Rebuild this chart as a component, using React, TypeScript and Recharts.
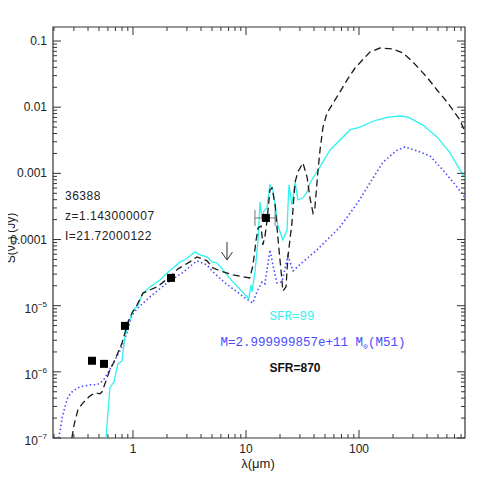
import React from 'react'
import {
    ComposedChart,
    Line,
    Scatter,
    ErrorBar,
    XAxis,
    YAxis,
    ReferenceArea
} from 'recharts'

// model SEDs, [wavelength (um), flux (Jy)]
const SED_SFR99: [number, number][] = [
    [0.577, 1e-7], [0.625, 5.75e-7], [0.679, 7.08e-7], [0.736, 1.32e-6], [0.8, 1.47e-6],
    [0.849, 3.39e-6], [0.922, 5.69e-6], [1.0, 8.33e-6], [1.107, 1.02e-5], [1.225, 1.55e-5],
    [1.413, 1.92e-5], [1.734, 2.45e-5], [2.0, 3.13e-5], [2.26, 3.72e-5], [2.61, 4.59e-5],
    [2.88, 4.9e-5], [3.19, 5.65e-5], [3.54, 6.5e-5], [3.92, 5.85e-5], [4.52, 5.46e-5],
    [5.0, 4.59e-5], [5.53, 4.44e-5], [7.67, 2.29e-5], [10.6, 1.27e-5], [11.1, 2.06e-5],
    [11.3, 1.62e-5], [12.0, 3.24e-5], [12.8, 9.86e-5], [13.3, 3.72e-4], [13.9, 1.98e-4],
    [14.4, 2.7e-4], [15.3, 3.0e-4], [16.3, 6.68e-4], [17.3, 5.62e-4], [18.1, 3.33e-4],
    [19.2, 1.6e-4], [21.2, 9.86e-5], [23.1, 1.4e-4], [23.5, 3.0e-4], [24.0, 6.68e-4],
    [25.5, 3.33e-4], [27.2, 7.41e-4], [28.8, 3.98e-4], [31.9, 4.27e-4], [34.7, 5.25e-4],
    [36.8, 7.16e-4], [43.4, 1.12e-3], [55.3, 2.24e-3], [83.2, 4.53e-3], [102, 5.01e-3],
    [130, 6.03e-3], [147, 6.46e-3], [181, 7.08e-3], [231, 7.36e-3], [272, 7.08e-3],
    [368, 5.37e-3], [490, 3.55e-3], [638, 2.04e-3], [832, 9.46e-4], [867, 8.5e-4]
]

const SED_SFR870: [number, number][] = [
    [0.288, 1e-7], [0.301, 1.58e-7], [0.326, 2.67e-7], [0.361, 3.4e-7], [0.417, 4.34e-7],
    [0.461, 4.82e-7], [0.511, 4.66e-7], [0.532, 4.99e-7], [0.565, 6.6e-7], [0.625, 1.07e-6],
    [0.693, 1.51e-6], [0.8, 2.74e-6], [0.849, 3.89e-6], [0.903, 5.69e-6], [0.98, 7.76e-6],
    [1.084, 1.02e-5], [1.225, 1.55e-5], [1.63, 1.92e-5], [2.12, 2.72e-5], [2.5, 3.6e-5],
    [3.19, 4.59e-5], [3.68, 5.46e-5], [4.52, 4.75e-5], [5.1, 3.72e-5], [5.89, 3.36e-5],
    [7.67, 2.92e-5], [10.8, 2.63e-5], [11.5, 3.98e-5], [12.3, 9.86e-5], [12.8, 1.5e-4],
    [13.6, 1.6e-4], [14.1, 8.3e-5], [14.7, 1.1e-4], [15.3, 1.85e-4], [16.3, 5.62e-4],
    [17.0, 6.03e-4], [18.1, 3.33e-4], [18.8, 1.55e-4], [19.6, 6.97e-5], [20.8, 2.45e-5],
    [21.2, 1.67e-5], [22.6, 1.92e-5], [23.5, 5.46e-5], [25.5, 1.78e-4], [27.2, 7.41e-4],
    [28.8, 1.05e-3], [31.9, 1.44e-3], [34.7, 8.83e-4], [36.8, 4.27e-4], [39.2, 2.51e-4],
    [40.7, 3.0e-4], [43.4, 1.12e-3], [45.2, 2.24e-3], [48.0, 5.0e-3], [52.1, 8.17e-3],
    [63.8, 0.0143], [78.3, 0.0257], [92.2, 0.0391], [125, 0.0682], [153, 0.0784],
    [200, 0.0758], [245, 0.0659], [300, 0.0482], [398, 0.0286], [490, 0.0182],
    [601, 0.012], [783, 6.41e-3], [867, 4.22e-3]
]

const SED_M51: [number, number][] = [
    [0.221, 1e-7], [0.236, 2.02e-7], [0.25, 2.96e-7], [0.266, 4.19e-7], [0.294, 5.16e-7],
    [0.34, 5.93e-7], [0.417, 6.37e-7], [0.48, 6.37e-7], [0.543, 7.31e-7], [0.601, 9.66e-7],
    [0.693, 1.51e-6], [0.8, 2.39e-6], [0.885, 3.89e-6], [0.98, 7.24e-6], [1.107, 9.27e-6],
    [1.413, 1.36e-5], [2.0, 2.21e-5], [2.72, 3.13e-5], [3.68, 4.75e-5], [4.52, 4.13e-5],
    [5.1, 3.24e-5], [6.52, 2.21e-5], [8.32, 1.62e-5], [9.8, 1.31e-5], [11.5, 1.1e-5],
    [12.5, 1.62e-5], [13.9, 2.29e-5], [14.7, 2.14e-5], [16.3, 6.97e-5], [17.3, 4.13e-5],
    [18.8, 2.21e-5], [20.8, 2.29e-5], [23.5, 5.65e-5], [26.1, 3.36e-5], [31.9, 4.59e-5],
    [42.5, 6.97e-5], [67.9, 1.55e-4], [95.9, 3.47e-4], [125, 7.16e-4], [163, 1.48e-3],
    [217, 2.24e-3], [255, 2.51e-3], [326, 2.19e-3], [425, 1.83e-3], [554, 1.12e-3],
    [736, 6.24e-4], [867, 4.27e-4]
]

// observed photometry (optical / near-IR)
const PHOT_LAM = [0.434, 0.554, 0.849, 2.17]
const PHOT_S = [1.47e-6, 1.32e-6, 4.95e-6, 2.63e-5]

// 15um point with its band width
const MIR_LAM = [15.0]
const MIR_S = [2.12e-4]
const MIR_LAM_LO = [12.0]
const MIR_LAM_HI = [18.1]

// upper limit
const LIMIT_LAM = [6.79]
const LIMIT_S = [4.9e-5]

const X_MIN = 0.196
const X_MAX = 867
const Y_MIN = 1e-7
const Y_MAX = 0.163

const X_DECADES = [0.1, 1, 10, 100]
const Y_DECADES = [1e-7, 1e-6, 1e-5, 1e-4, 1e-3, 1e-2, 1e-1]
const X_LABELS: Record<string, string> = { '0': '1', '1': '10', '2': '100' }
const Y_LABELS: Record<string, string> = { '-1': '0.1', '-2': '0.01', '-3': '0.001', '-4': '0.0001' }

const W = 491
const H = 491
const TOP = 27
const RIGHT = 465
const AXIS_COLOR = '#333'
const FONT = '"Liberation Sans", Arial, sans-serif'
const MONO = '"Liberation Mono", "Courier New", monospace'

const minorTicks = (decades: number[], lo: number, hi: number) =>
    decades
        .flatMap(d => [1, 2, 3, 4, 5, 6, 7, 8, 9].map(m => Number((m * d).toPrecision(3))))
        .filter(v => v >= lo && v <= hi)

const X_TICKS = minorTicks(X_DECADES, X_MIN, X_MAX)
const Y_TICKS = minorTicks(Y_DECADES, Y_MIN, Y_MAX)

const decadeOf = (v: number) => {
    const l = Math.log10(v)
    const e = Math.round(l)
    return Math.abs(l - e) < 1e-6 ? e : null
}

const toPoints = (pairs: [number, number][]) => pairs.map(([lam, s]) => ({ lam, s }))

const photData = PHOT_LAM.map((lam, i) => ({ lam, s: PHOT_S[i] }))
const mirData = MIR_LAM.map((lam, i) => ({
    lam,
    s: MIR_S[i],
    xerr: [lam - MIR_LAM_LO[i], MIR_LAM_HI[i] - lam]
}))
const limitData = LIMIT_LAM.map((lam, i) => ({ lam, s: LIMIT_S[i] }))

function XTick(props: any) {
    const { x, y, payload } = props
    const e = decadeOf(payload.value)
    const len = e !== null ? 8 : 4
    const label = e !== null ? X_LABELS[String(e)] : undefined
    return (
        <g>
            <line x1={x} y1={y} x2={x} y2={y - len} stroke={AXIS_COLOR} />
            <line x1={x} y1={TOP} x2={x} y2={TOP + len} stroke={AXIS_COLOR} />
            {label && (
                <text x={x} y={y + 15} textAnchor="middle" fontSize={12} fontFamily={FONT} fill="#222">
                    {label}
                </text>
            )}
        </g>
    )
}

function YTick(props: any) {
    const { x, y, payload } = props
    const e = decadeOf(payload.value)
    const len = e !== null ? 8 : 4
    let label: React.ReactNode = null
    if (e !== null) {
        label = Y_LABELS[String(e)] ? (
            <text x={x - 6} y={y + 4} textAnchor="end" fontSize={12} fontFamily={FONT} fill="#222">
                {Y_LABELS[String(e)]}
            </text>
        ) : (
            <text x={x - 6} y={y + 7} textAnchor="end" fontSize={12} fontFamily={FONT} fill="#222">
                <tspan>10</tspan>
                <tspan dy={-6} fontSize={8}>{`\u2212${-e}`}</tspan>
            </text>
        )
    }
    return (
        <g>
            <line x1={x} y1={y} x2={x + len} y2={y} stroke={AXIS_COLOR} />
            <line x1={RIGHT} y1={y} x2={RIGHT - len} y2={y} stroke={AXIS_COLOR} />
            {label}
        </g>
    )
}

function LimitArrow(props: any) {
    const { cx, cy } = props
    return (
        <g stroke="#333" strokeWidth={1} fill="none">
            <line x1={cx} y1={cy - 18} x2={cx} y2={cy} />
            <polyline points={`${cx - 5.5},${cy - 8} ${cx},${cy} ${cx + 5.5},${cy - 8}`} />
        </g>
    )
}

export default function App() {
    return (
        <div style={{ position: 'relative', width: W, height: H, margin: -8, background: '#fff' }}>
            <ComposedChart width={W} height={H} margin={{ top: TOP, right: W - RIGHT, left: 0, bottom: 0 }}>
                <XAxis
                    type="number"
                    dataKey="lam"
                    scale="log"
                    domain={[X_MIN, X_MAX]}
                    allowDataOverflow
                    ticks={X_TICKS}
                    interval={0}
                    height={53}
                    tickSize={0}
                    tickMargin={0}
                    tickLine={false}
                    axisLine={false}
                    tick={<XTick />}
                />
                <YAxis
                    type="number"
                    dataKey="s"
                    scale="log"
                    domain={[Y_MIN, Y_MAX]}
                    allowDataOverflow
                    ticks={Y_TICKS}
                    interval={0}
                    width={53}
                    tickSize={0}
                    tickMargin={0}
                    tickLine={false}
                    axisLine={false}
                    tick={<YTick />}
                />
                <ReferenceArea
                    x1={X_MIN}
                    x2={X_MAX}
                    y1={Y_MIN}
                    y2={Y_MAX}
                    fill="none"
                    stroke={AXIS_COLOR}
                    strokeWidth={1.2}
                    ifOverflow="visible"
                />
                <Line
                    data={toPoints(SED_M51)}
                    dataKey="s"
                    type="linear"
                    stroke="#4a4aff"
                    strokeWidth={1.6}
                    strokeDasharray="1.5 2.5"
                    dot={false}
                    isAnimationActive={false}
                />
                <Line
                    data={toPoints(SED_SFR99)}
                    dataKey="s"
                    type="linear"
                    stroke="#2ef2f2"
                    strokeWidth={1.3}
                    dot={false}
                    isAnimationActive={false}
                />
                <Line
                    data={toPoints(SED_SFR870)}
                    dataKey="s"
                    type="linear"
                    stroke="#1a1a1a"
                    strokeWidth={1.3}
                    strokeDasharray="7 4"
                    dot={false}
                    isAnimationActive={false}
                />
                <Scatter data={limitData} dataKey="s" shape={<LimitArrow />} isAnimationActive={false} />
                <Scatter data={mirData} dataKey="s" shape="square" fill="#000" isAnimationActive={false}>
                    <ErrorBar dataKey="xerr" direction="x" width={8} stroke="#777" strokeWidth={1} />
                </Scatter>
                <Scatter data={photData} dataKey="s" shape="square" fill="#000" isAnimationActive={false} />
            </ComposedChart>

            <svg width={W} height={H} style={{ position: 'absolute', left: 0, top: 0, pointerEvents: 'none' }}>
                <g fontFamily={FONT} fontSize={12} fill="#222" letterSpacing={0.5}>
                    <text x={65} y={200}>36388</text>
                    <text x={65} y={220}>z=1.143000007</text>
                    <text x={65} y={240}>I=21.72000122</text>
                </g>
                <text x={292} y={320} textAnchor="middle" fontFamily={MONO} fontSize={12.5} fill="#2ef2f2">
                    SFR=99
                </text>
                <text x={313} y={346} textAnchor="middle" fontFamily={MONO} fontSize={12.5} fill="#4a4aff">
                    <tspan>M=2.999999857e+11 M</tspan>
                    <tspan dy={3} fontSize={8}>{'\u2299'}</tspan>
                    <tspan dy={-3}>(M51)</tspan>
                </text>
                <text x={295} y={372} textAnchor="middle" fontFamily={FONT} fontSize={12} fontWeight="bold" fill="#111">
                    SFR=870
                </text>
                <text x={258} y={468} textAnchor="middle" fontFamily={FONT} fontSize={13} fill="#222">
                    λ(μm)
                </text>
                <text
                    x={15}
                    y={238}
                    transform="rotate(-90 15 238)"
                    textAnchor="middle"
                    fontFamily={FONT}
                    fontSize={12}
                    fill="#222"
                >
                    S(ν₀) (Jy)
                </text>
            </svg>
        </div>
    )
}
